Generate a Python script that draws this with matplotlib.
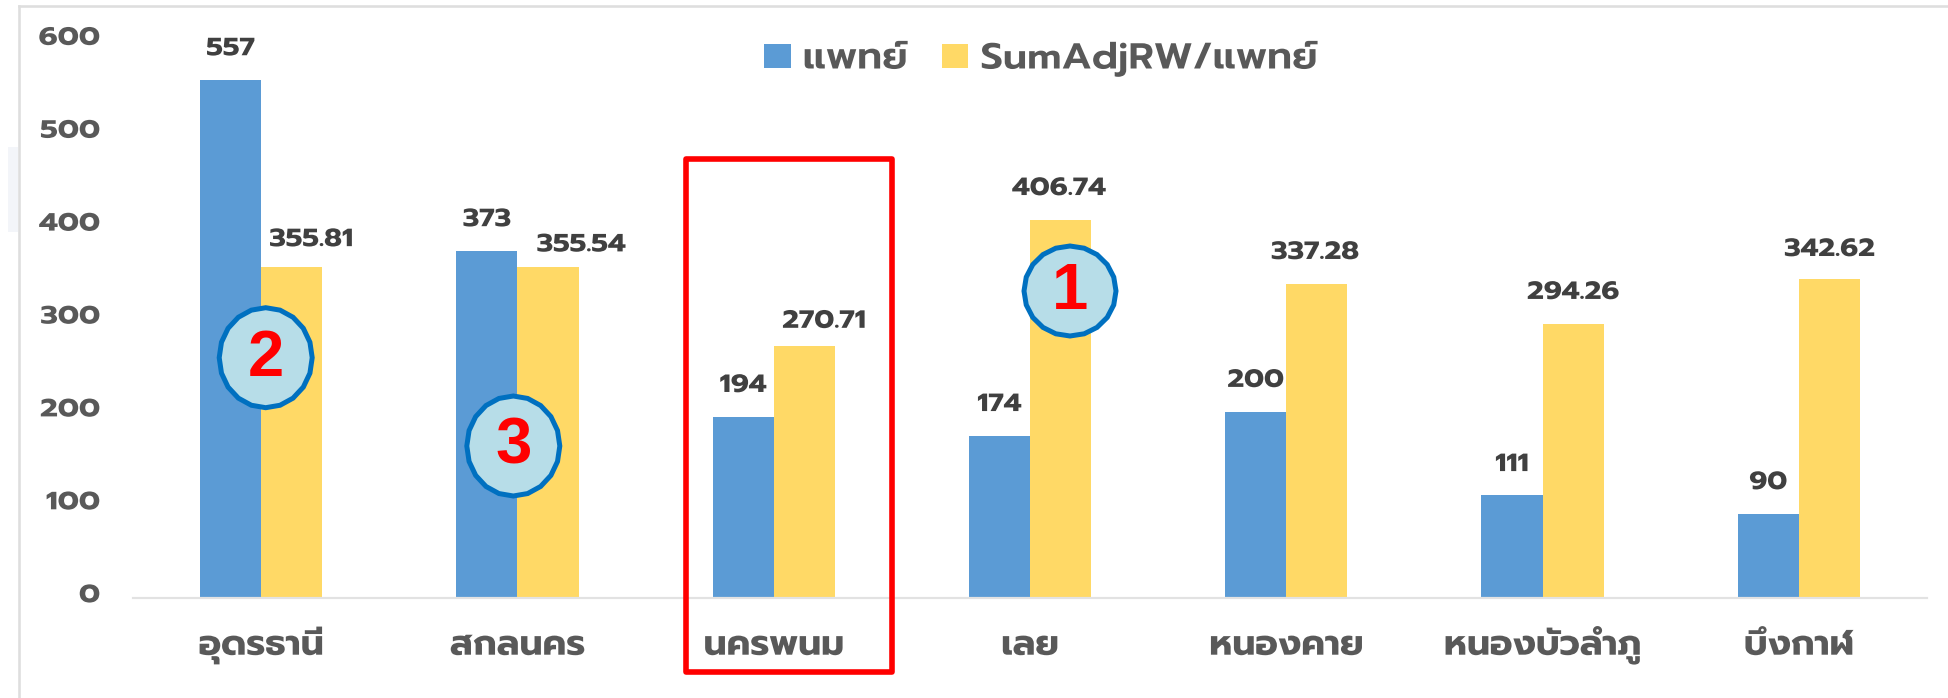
import numpy as np
import matplotlib
matplotlib.use('Agg')
import matplotlib.pyplot as plt
import matplotlib.patches as mp
from matplotlib.lines import Line2D
from matplotlib.patheffects import AbstractPathEffect
from matplotlib.transforms import Affine2D

provinces = ['อุดรธานี', 'สกลนคร', 'นครพนม', 'เลย', 'หนองคาย', 'หนองบัวลำภู', 'บึงกาฬ']
doctors = [557, 373, 194, 174, 200, 111, 90]
adjrw_per_doctor = [355.81, 355.54, 270.71, 406.74, 337.28, 294.26, 342.62]
yticks = [0, 100, 200, 300, 400, 500, 600]
series_names = ['แพทย์', 'SumAdjRW/แพทย์']

# label offsets from the top of each bar, in pixels
blue_dx = [0, 0, 0, 0, 0, 0, 0]
blue_dy = [31.5, 31.5, 32, 31.5, 31.5, 30, 31.5]
yellow_dx = [19.3, 33, 19.7, -1.6, -2, 0, 0]
yellow_dy = [27.5, 22.5, 24.9, 31.3, 31.9, 31.9, 29.9]

W, H = 1948, 698
FONT = 'Prompt'
BLUE, YELLOW = '#5B9BD5', '#FFD966'
PT = 72 / 100  # points per pixel


class Stretch(AbstractPathEffect):
    """Widen a text horizontally about one of its ends or its centre."""
    def __init__(self, sx, anchor='center'):
        super().__init__()
        self.sx, self.anchor = sx, anchor

    def draw_path(self, renderer, gc, tpath, affine, rgbFace=None):
        e = tpath.get_extents()
        xa = {'left': e.x0, 'right': e.x1, 'center': (e.x0 + e.x1) / 2}[self.anchor]
        a = Affine2D().translate(-xa, 0).scale(self.sx, 1).translate(xa, 0) + affine
        renderer.draw_path(gc, tpath, a, rgbFace)


fig = plt.figure(figsize=(W / 100, H / 100), dpi=100, facecolor='white')
px = Affine2D().scale(1, -1).translate(0, H)  # reference pixels to display

y0, y600 = 597.7, 40.3
ax = fig.add_axes([133 / W, 1 - y0 / H, (1927 - 133) / W, (y0 - y600) / H])
x = np.arange(len(provinces))
bw = 0.2388
b1 = ax.bar(x - bw / 2, doctors, bw, color=BLUE, label=series_names[0], zorder=2)
b2 = ax.bar(x + bw / 2, adjrw_per_doctor, bw, color=YELLOW, label=series_names[1], zorder=2)
ax.set_xlim(-0.5, 6.5)
ax.set_ylim(0, 600)
for s in ['top', 'right', 'left']:
    ax.spines[s].set_visible(False)
ax.spines['bottom'].set_color('#e2e2e2')
ax.spines['bottom'].set_linewidth(2.2 * PT)
ax.spines['bottom'].set_zorder(3)

ax.set_yticks(yticks)
ax.tick_params(axis='y', length=0, pad=33 * PT)
for l in ax.get_yticklabels():
    l.set(fontfamily=FONT, fontweight=700, fontsize=18, color='#595959')
    l.set_transform(l.get_transform() + Affine2D().translate(0, 5))
    l.set_path_effects([Stretch(1.22, 'right')])
ax.set_xticks(x, provinces)
ax.tick_params(axis='x', length=0, pad=0)
for l in ax.get_xticklabels():
    l.set(fontfamily=FONT, fontweight=700, fontsize=25, color='#595959', va='baseline')
    l.set_transform(l.get_transform() + Affine2D().translate(0, -57))
    l.set_path_effects([Stretch(1.04, 'center')])


def label(xv, v, txt, dx, dy):
    t = ax.annotate(txt, (xv, v), xytext=(dx * PT, dy * PT), textcoords='offset points',
                    ha='center', va='center', fontfamily=FONT, fontweight=700,
                    fontsize=18, color='#404040', annotation_clip=False, zorder=6)
    t.set_path_effects([Stretch(1.15, 'center')])


for i in x:
    label(i - bw / 2, doctors[i], f'{doctors[i]}', blue_dx[i], blue_dy[i])
    label(i + bw / 2, adjrw_per_doctor[i], f'{adjrw_per_doctor[i]:.2f}', yellow_dx[i], yellow_dy[i])

# legend
leg = ax.legend(handles=[b1, b2], ncol=2, frameon=False, loc='center left',
                bbox_to_anchor=(763.8, H - 59), bbox_transform=Affine2D(),
                prop={'family': FONT, 'weight': 600, 'size': 26},
                handlelength=0.74, handleheight=0.65, handletextpad=0.34,
                columnspacing=1.18, borderpad=0, borderaxespad=0, labelcolor='#595959')
for t in leg.get_texts():
    t.set_path_effects([Stretch(1.09, 'left')])

# frame and pale strip
for xs, ys in [((19, W), (6, 6)), ((19, 19), (6, H))]:
    fig.add_artist(Line2D(xs, ys, color='#dedede', lw=2.6 * PT, transform=px, zorder=1))
fig.add_artist(mp.Rectangle((8, 147), 10, 85, fc='#f3f5f9', ec='none', transform=px, zorder=0))

# highlight box
fig.add_artist(mp.Rectangle((686, 158.7), 206, 513.3, fc='none', ec='#FF0000', lw=5.6 * PT,
                            joinstyle='round', transform=px, zorder=7))


# rank badges
def badge(cx, cy, rx, ry, s):
    a = np.linspace(0, 2 * np.pi, 20, endpoint=False)
    pts = np.column_stack([cx + rx * np.cos(a), cy + ry * np.sin(a)])
    fig.add_artist(mp.Polygon(pts, closed=True, fc='#B7DDE8', ec='#0070C0', lw=5 * PT,
                              joinstyle='miter', transform=px, zorder=8))
    fig.add_artist(plt.Text(cx, cy + 1, s, transform=px, ha='center', va='center',
                            color='#FF0000', fontsize=47, fontweight='bold',
                            family='Liberation Sans', zorder=9))


badge(1070, 291, 46, 45, '1')
badge(265.7, 357.7, 46.5, 50, '2')
badge(513.3, 446, 46.5, 50, '3')

fig.savefig('out.png', dpi=100)
